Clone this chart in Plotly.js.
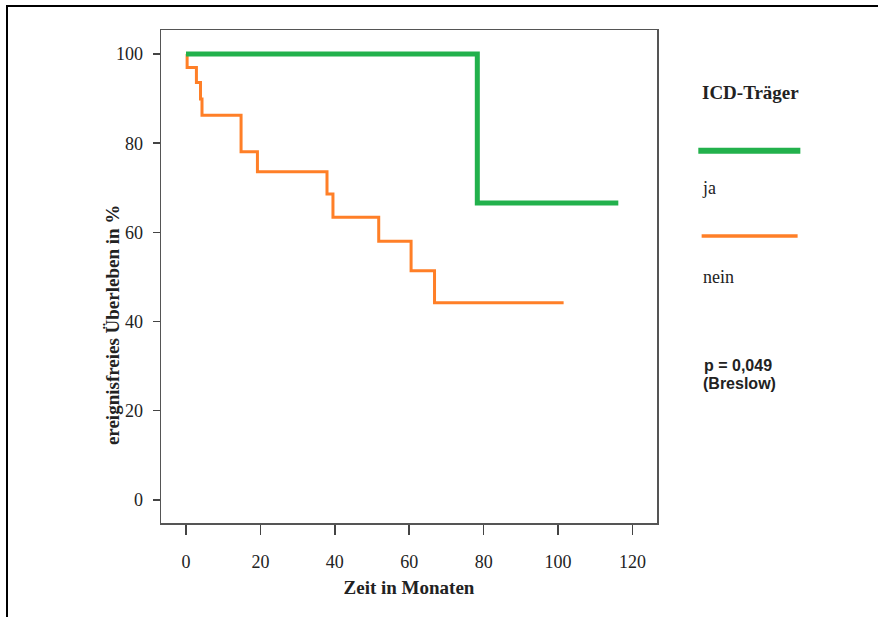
<!DOCTYPE html>
<html>
<head>
<meta charset="utf-8">
<script src="https://cdn.plot.ly/plotly-3.0.1.min.js"></script>
<style>
  html, body { margin: 0; padding: 0; background: #fff; }
  #wrap { position: relative; width: 878px; height: 617px; overflow: hidden; }
  #chart { position: absolute; left: 0; top: 0; width: 878px; height: 617px; }
  #frame { position: absolute; left: 6px; top: 5px; width: 900px; height: 700px;
           border-left: 2px solid #000; border-top: 2px solid #000; pointer-events: none; }
</style>
</head>
<body>
<div id="wrap"><div id="chart"></div><div id="frame"></div></div>
<script>
// Kaplan-Meier data (months, % event-free survival)
const jaMonths   = [0, 78.3, 116.2];
const jaSurv     = [100, 66.6, 66.6];
const neinMonths = [0, 0.3, 2.8, 3.9, 4.3, 14.8, 19.2, 37.9, 39.5, 51.8, 60.5, 66.8, 101.5];
const neinSurv   = [100, 97.0, 93.6, 89.9, 86.3, 78.1, 73.6, 68.6, 63.4, 58.0, 51.4, 44.2, 44.2];
const xTicks = [0, 20, 40, 60, 80, 100, 120];
const yTicks = [0, 20, 40, 60, 80, 100];
const groupNames = ['ja', 'nein'];
const legendTitle = 'ICD-Träger';
const xTitle = 'Zeit in Monaten';
const yTitle = 'ereignisfreies Überleben in %';
const statText = ['p = 0,049', '(Breslow)'];

const GREEN = '#22b14c', ORANGE = '#ff7f27';
const serif = 'Liberation Serif, Times New Roman, serif';
const sans = 'Liberation Sans, Arial, sans-serif';

const traces = [
  { x: neinMonths, y: neinSurv, type: 'scatter', mode: 'lines', name: groupNames[1],
    line: { shape: 'hv', color: ORANGE, width: 3 }, hoverinfo: 'x+y' },
  { x: jaMonths, y: jaSurv, type: 'scatter', mode: 'lines', name: groupNames[0],
    line: { shape: 'hv', color: GREEN, width: 5 }, hoverinfo: 'x+y' }
];

const layout = {
  width: 878, height: 617, autosize: false,
  margin: { l: 161, r: 221, t: 30, b: 94 },
  paper_bgcolor: 'rgba(0,0,0,0)', plot_bgcolor: '#fff',
  showlegend: false,
  font: { family: serif, color: '#222', size: 18 },
  xaxis: {
    range: [-6.72, 126.6], tickvals: xTicks, ticktext: xTicks.map(String),
    showgrid: false, zeroline: false,
    showline: true, mirror: true, linecolor: '#555', linewidth: 1.5,
    ticks: 'outside', ticklen: 10, tickwidth: 1.5, tickcolor: '#444',
    ticklabelstandoff: 12,
    tickfont: { family: serif, size: 18, color: '#222' },
    title: { text: '<b>' + xTitle + '</b>', font: { family: serif, size: 19, color: '#222' }, standoff: 9 }
  },
  yaxis: {
    range: [-5.2, 105.4], tickvals: yTicks, ticktext: yTicks.map(String),
    showgrid: false, zeroline: false,
    showline: true, mirror: true, linecolor: '#555', linewidth: 1.5,
    ticks: 'outside', ticklen: 7, tickwidth: 1.5, tickcolor: '#444',
    ticklabelstandoff: 6,
    tickfont: { family: serif, size: 18, color: '#222' }
  },
  shapes: [
    { type: 'line', xref: 'paper', yref: 'paper', x0: 1.0833, x1: 1.289, y0: 0.7553, y1: 0.7553,
      line: { color: GREEN, width: 6 } },
    { type: 'line', xref: 'paper', yref: 'paper', x0: 1.090, x1: 1.2835, y0: 0.5824, y1: 0.5824,
      line: { color: ORANGE, width: 3.5 } }
  ],
  annotations: [
    { xref: 'paper', yref: 'paper', x: -0.0962, y: 0.402, xanchor: 'center', yanchor: 'middle', showarrow: false,
      textangle: -90, text: '<b>' + yTitle + '</b>', font: { family: serif, size: 19, color: '#222' } },
    { xref: 'paper', yref: 'paper', x: 1.087, y: 0.8737, xanchor: 'left', yanchor: 'middle', showarrow: false,
      text: '<b>' + legendTitle + '</b>', font: { family: serif, size: 19, color: '#222' } },
    { xref: 'paper', yref: 'paper', x: 1.087, y: 0.6797, xanchor: 'left', yanchor: 'middle', showarrow: false,
      text: groupNames[0], font: { family: serif, size: 18, color: '#222' } },
    { xref: 'paper', yref: 'paper', x: 1.089, y: 0.4993, xanchor: 'left', yanchor: 'middle', showarrow: false,
      text: groupNames[1], font: { family: serif, size: 18, color: '#222' } },
    { xref: 'paper', yref: 'paper', x: 1.0913, y: 0.3189, xanchor: 'left', yanchor: 'middle', showarrow: false,
      text: '<b>' + statText[0] + '</b>', font: { family: sans, size: 16, color: '#222' } },
    { xref: 'paper', yref: 'paper', x: 1.0893, y: 0.2824, xanchor: 'left', yanchor: 'middle', showarrow: false,
      text: '<b>' + statText[1] + '</b>', font: { family: sans, size: 16, color: '#222' } }
  ]
};

Plotly.newPlot('chart', traces, layout, { displayModeBar: false, staticPlot: true });
</script>
</body>
</html>
